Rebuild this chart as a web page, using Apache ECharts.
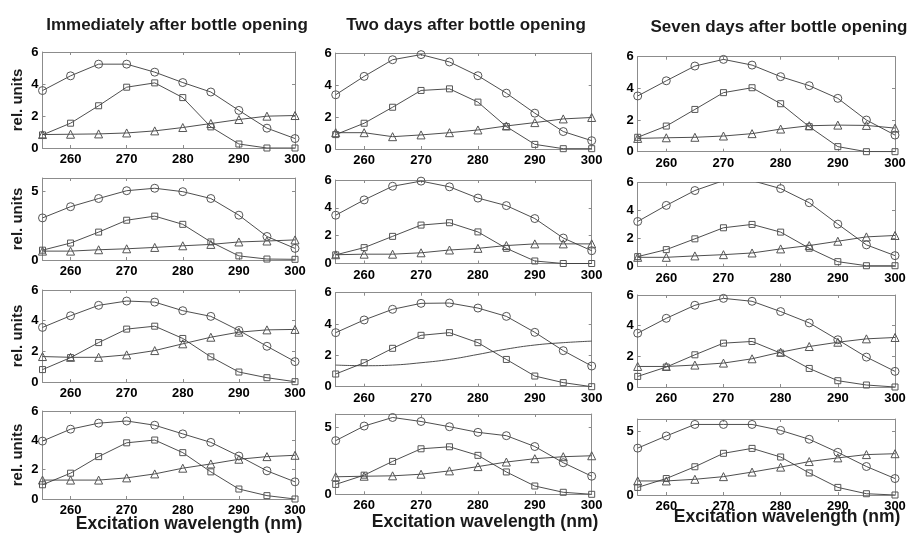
<!DOCTYPE html>
<html><head><meta charset="utf-8">
<script src="https://cdn.jsdelivr.net/npm/echarts@6/dist/echarts.min.js"></script>
<style>html,body{margin:0;padding:0;background:#fff}#c{width:913px;height:533px}</style>
</head><body><div id="c"></div>
<script>
// ---- data ----
const wavelengths = [255,260,265,270,275,280,285,290,295,300];
const xTickValues = [260,270,280,290,300];
const yTicksFull = [0,2,4,6];
const yTicksFive = [0,5];
const columnTitles = ["Immediately after bottle opening","Two days after bottle opening","Seven days after bottle opening"];
const yAxisTitle = "rel. units";
const xAxisTitle = "Excitation wavelength (nm)";

// Column 1: immediately after opening
const c1r1_circle   = [3.59,4.51,5.24,5.24,4.74,4.09,3.50,2.35,1.24,0.59];
const c1r1_square   = [0.82,1.55,2.64,3.80,4.07,3.15,1.32,0.25,0.00,0.00];
const c1r1_triangle = [0.84,0.86,0.88,0.94,1.07,1.28,1.53,1.78,1.99,2.03];
const c1r2_circle   = [3.08,3.90,4.50,5.07,5.25,5.00,4.50,3.28,1.72,0.85];
const c1r2_square   = [0.72,1.24,2.04,2.91,3.21,2.61,1.32,0.30,0.07,0.05];
const c1r2_triangle = [0.65,0.65,0.75,0.82,0.92,1.04,1.14,1.32,1.39,1.47];
const c1r3_circle   = [3.56,4.32,5.00,5.28,5.21,4.65,4.28,3.36,2.33,1.33];
const c1r3_square   = [0.81,1.59,2.57,3.45,3.64,2.84,1.64,0.65,0.28,0.02];
const c1r3_triangle = [1.66,1.61,1.61,1.77,2.05,2.49,2.92,3.25,3.40,3.43];
const c1r4_circle   = [3.95,4.76,5.17,5.32,5.03,4.44,3.86,2.93,1.92,1.17];
const c1r4_square   = [0.97,1.76,2.89,3.83,4.02,3.16,1.85,0.68,0.23,0.00];
const c1r4_triangle = [1.29,1.29,1.29,1.44,1.71,2.10,2.39,2.71,2.89,2.98];
// Column 2: two days after opening
const c2r1_circle   = [3.39,4.54,5.58,5.90,5.44,4.58,3.49,2.24,1.09,0.52];
const c2r1_square   = [0.90,1.61,2.61,3.66,3.76,2.93,1.40,0.29,0.02,0.02];
const c2r1_triangle = [1.02,1.02,0.77,0.88,1.02,1.19,1.44,1.65,1.88,1.97];
const c2r2_circle   = [3.47,4.57,5.55,5.92,5.51,4.70,4.16,3.23,1.83,0.92];
const c2r2_square   = [0.62,1.14,1.95,2.76,2.93,2.27,1.09,0.18,0.00,0.00];
const c2r2_triangle = [0.63,0.67,0.67,0.77,0.97,1.09,1.29,1.41,1.41,1.41];
const c2r3_circle   = [3.45,4.26,4.94,5.32,5.34,5.02,4.49,3.47,2.30,1.32];
const c2r3_square   = [0.81,1.53,2.45,3.28,3.45,2.81,1.74,0.68,0.26,0.00];
const c2r3_triangle = [1.38,1.34,1.38,1.53,1.74,2.06,2.40,2.66,2.81,2.91];
const c2r4_circle   = [4.01,5.10,5.74,5.44,5.05,4.63,4.38,3.57,2.36,1.35];
const c2r4_square   = [0.74,1.43,2.46,3.40,3.55,2.91,1.67,0.62,0.15,0.00];
const c2r4_triangle = [1.31,1.35,1.38,1.50,1.75,2.07,2.41,2.66,2.81,2.88];
// Column 3: seven days after opening
const c3r1_circle   = [3.52,4.48,5.41,5.83,5.47,4.74,4.17,3.37,2.00,1.05];
const c3r1_square   = [0.91,1.62,2.67,3.73,4.04,3.03,1.58,0.32,0.00,0.00];
const c3r1_triangle = [0.84,0.88,0.91,0.99,1.14,1.43,1.64,1.68,1.66,1.49];
const c3r2_circle   = [3.23,4.38,5.44,6.15,6.15,5.58,4.57,3.04,1.56,0.79];
const c3r2_square   = [0.72,1.22,1.99,2.78,3.02,2.47,1.32,0.36,0.07,0.07];
const c3r2_triangle = [0.67,0.67,0.77,0.86,0.98,1.27,1.51,1.82,2.13,2.23];
const c3r3_circle   = [3.51,4.48,5.33,5.78,5.59,4.92,4.18,3.08,1.95,1.02];
const c3r3_square   = [0.69,1.30,2.10,2.86,2.97,2.21,1.21,0.41,0.13,0.00];
const c3r3_triangle = [1.34,1.34,1.43,1.56,1.84,2.27,2.64,2.92,3.14,3.23];
const c3r4_circle   = [3.70,4.66,5.57,5.57,5.57,5.10,4.40,3.37,2.25,1.30];
const c3r4_square   = [0.60,1.30,2.23,3.29,3.68,3.00,1.74,0.60,0.10,0.00];
const c3r4_triangle = [1.11,1.11,1.24,1.45,1.81,2.20,2.64,2.93,3.19,3.26];

// ---- panels (data refs + tick sets) ----
const panels = [
  {col:0,row:0,c:c1r1_circle,s:c1r1_square,t:c1r1_triangle,yt:yTicksFull},
  {col:0,row:1,c:c1r2_circle,s:c1r2_square,t:c1r2_triangle,yt:yTicksFive},
  {col:0,row:2,c:c1r3_circle,s:c1r3_square,t:c1r3_triangle,yt:yTicksFull},
  {col:0,row:3,c:c1r4_circle,s:c1r4_square,t:c1r4_triangle,yt:yTicksFull},
  {col:1,row:0,c:c2r1_circle,s:c2r1_square,t:c2r1_triangle,yt:yTicksFull},
  {col:1,row:1,c:c2r2_circle,s:c2r2_square,t:c2r2_triangle,yt:yTicksFull},
  {col:1,row:2,c:c2r3_circle,s:c2r3_square,t:c2r3_triangle,yt:yTicksFull,lineOnly:true},
  {col:1,row:3,c:c2r4_circle,s:c2r4_square,t:c2r4_triangle,yt:yTicksFive},
  {col:2,row:0,c:c3r1_circle,s:c3r1_square,t:c3r1_triangle,yt:yTicksFull},
  {col:2,row:1,c:c3r2_circle,s:c3r2_square,t:c3r2_triangle,yt:yTicksFull},
  {col:2,row:2,c:c3r3_circle,s:c3r3_square,t:c3r3_triangle,yt:yTicksFull},
  {col:2,row:3,c:c3r4_circle,s:c3r4_square,t:c3r4_triangle,yt:yTicksFive}
];

// ---- layout (pixel geometry) ----
const colX = [[42.5,295],[335.7,591.7],[637.7,895]];
const rowY = [
  [[52,148],[178,260],[290,382],[411,499]],
  [[53,149],[180,263.5],[292.7,386.7],[414,494.3]],
  [[56.7,151.7],[182.7,266.7],[295,387],[419,495]]
];
const FONT = "'Liberation Sans', Arial, sans-serif";
const frameColor = '#8c8c8c';
const lineColor = '#3a3a3a';
const markColor = '#555';

const grid=[], xAxis=[], yAxis=[], series=[];
panels.forEach((p,i)=>{
  const [x0,x1]=colX[p.col]; const [y0,y1]=rowY[p.col][p.row];
  grid.push({left:x0,top:y0,width:x1-x0,height:y1-y0,containLabel:false});
  const tickStyle={show:true,inside:true,length:3,lineStyle:{color:frameColor,width:1}};
  const baseX={type:'value',gridIndex:i,min:255,max:300,splitLine:{show:false},
    axisLine:{show:true,onZero:false,lineStyle:{color:frameColor,width:1}}};
  xAxis.push(Object.assign({},baseX,{position:'bottom',
    axisTick:Object.assign({},tickStyle,{customValues:xTickValues}),
    axisLabel:{show:true,customValues:xTickValues,margin:5,color:'#000',fontWeight:'bold',fontSize:13,fontFamily:FONT}}));
  xAxis.push(Object.assign({},baseX,{position:'top',
    axisTick:Object.assign({},tickStyle,{customValues:xTickValues}),
    axisLabel:{show:false}}));
  const baseY={type:'value',gridIndex:i,min:0,max:6,splitLine:{show:false},
    axisLine:{show:true,onZero:false,lineStyle:{color:frameColor,width:1}}};
  yAxis.push(Object.assign({},baseY,{position:'left',
    axisTick:Object.assign({},tickStyle,{customValues:p.yt}),
    axisLabel:{show:true,customValues:p.yt,margin:4,color:'#000',fontWeight:'bold',fontSize:13,fontFamily:FONT}}));
  yAxis.push(Object.assign({},baseY,{position:'right',
    axisTick:Object.assign({},tickStyle,{customValues:p.yt}),
    axisLabel:{show:false}}));
  const mk=(vals,sym,size,opts)=>Object.assign({
    type:'line',xAxisIndex:2*i,yAxisIndex:2*i,clip:true,silent:true,animation:false,
    data:wavelengths.map((w,k)=>[w,vals[k]]),
    symbol:sym,symbolSize:size,showSymbol:true,
    lineStyle:{color:lineColor,width:0.9},
    itemStyle:{color:'rgba(255,255,255,0)',borderColor:markColor,borderWidth:1}
  },opts||{});
  series.push(mk(p.c,'circle',8));
  series.push(mk(p.s,'rect',6));
  if(p.lineOnly){
    series.push(mk(p.t,'none',0,{showSymbol:false,smooth:0.45}));
  } else {
    series.push(mk(p.t,'triangle',8));
  }
});

const graphic=[];
const titleCenters=[[177,25],[466,25],[779,27]];
columnTitles.forEach((t,k)=>graphic.push({type:'text',x:titleCenters[k][0],y:titleCenters[k][1],
  style:{text:t,font:"bold 17px "+FONT,fill:'#1a1a1a',textAlign:'center',textVerticalAlign:'middle'}}));
rowY[0].forEach(([a,b])=>graphic.push({type:'text',x:18,y:(a+b)/2,rotation:Math.PI/2,
  style:{text:yAxisTitle,font:"bold 15px "+FONT,fill:'#1a1a1a',textAlign:'center',textVerticalAlign:'middle'}}));
const xTitleCenters=[[189,524],[485,522],[787,517]];
xTitleCenters.forEach(([cx,cy])=>graphic.push({type:'text',x:cx,y:cy,
  style:{text:xAxisTitle,font:"bold 17.5px "+FONT,fill:'#1a1a1a',textAlign:'center',textVerticalAlign:'middle'}}));

const chart=echarts.init(document.getElementById('c'),null,{renderer:'canvas'});
chart.setOption({animation:false,backgroundColor:'#fff',grid,xAxis,yAxis,series,graphic});
</script></body></html>
